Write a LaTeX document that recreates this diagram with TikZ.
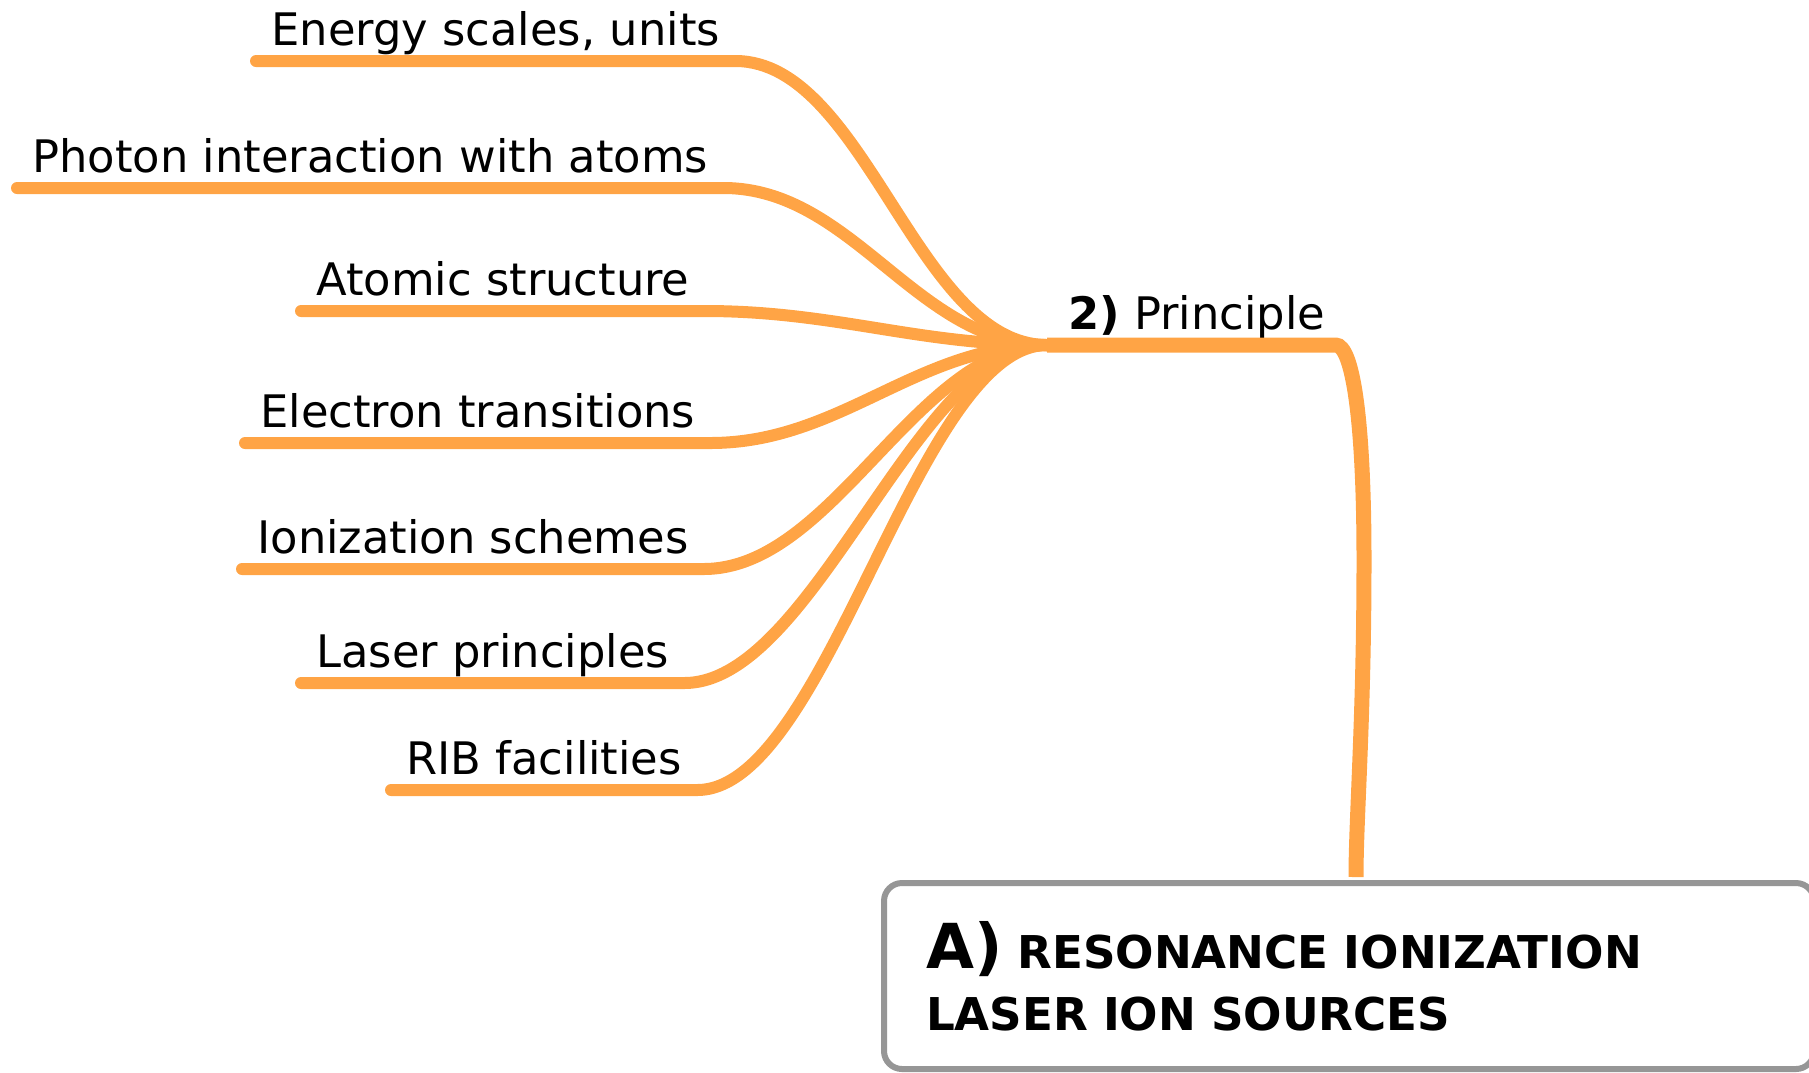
\documentclass[tikz,border=0pt]{standalone}
\usepackage{fontspec}
\setmainfont{DejaVu Sans}
\definecolor{mmorange}{RGB}{255,164,69}
\definecolor{mmgrey}{RGB}{150,150,150}
\newcommand{\twigcol}{mmorange}
\newcommand{\labelfont}{\fontsize{22.4}{27}\selectfont}

\begin{document}
\begin{tikzpicture}[x=0.5pt, y=-0.5pt]
        \tikzset{topic/.style = {anchor=base west, inner xsep=7.5pt, inner ysep=0pt, font=\labelfont},
                 twig/.style = {draw=\twigcol, line width=6pt, line cap=round},
                 trunk/.style = {draw=\twigcol, line width=7.5pt},
                 rootbox/.style = {draw=mmgrey, line width=3pt, rounded corners=9pt, fill=white,
                                   minimum width=465pt, minimum height=93pt, text width=423pt,
                                   inner xsep=21pt, align=left, font=\bfseries\fontsize{22.6}{31}\selectfont}}
        \useasboundingbox (0,0) rectangle (1809,1072);
        \coordinate (hub) at (1047,345);
        \coordinate (bend) at (1364,560);
        %\draw[help lines] (0,0) grid[step=100] (1809,1072);
        \foreach \name/\x/\y/\txt in {energy/256/61/{Energy scales, units},
                                        photon/17/188/{Photon interaction with atoms},
                                        atomic/301/311/{Atomic structure},
                                        electron/245/443/{Electron transitions},
                                        ionization/242/569/{Ionization schemes},
                                        laser/301/683/{Laser principles},
                                        rib/391/790/{RIB facilities}}{
                \node[topic] (\name) at (\x,\y-16) {\txt};
                \draw[twig] ([yshift=-8pt]\name.base west) -- ([yshift=-8pt]\name.base east)
                        .. controls +(130,0) and +(-130,0) .. (hub);
        }
        \node[topic, inner xsep=0pt] (principle) at ([xshift=10.5pt, yshift=8pt]hub) {\textbf{2)} Principle};
        \node[rootbox] (root) at (1349,976) {{\fontsize{31}{31}\selectfont A)} RESONANCE IONIZATION\\LASER ION SOURCES};
        \draw[trunk] (hub) -- ([xshift=5pt, yshift=-8pt]principle.base east)
                .. controls +(17,0) and +(0,-140) .. (bend)
                .. controls +(0,160) and +(0,-60) .. ([xshift=3.5pt, yshift=1.5pt]root.north);
\end{tikzpicture}
\end{document}
